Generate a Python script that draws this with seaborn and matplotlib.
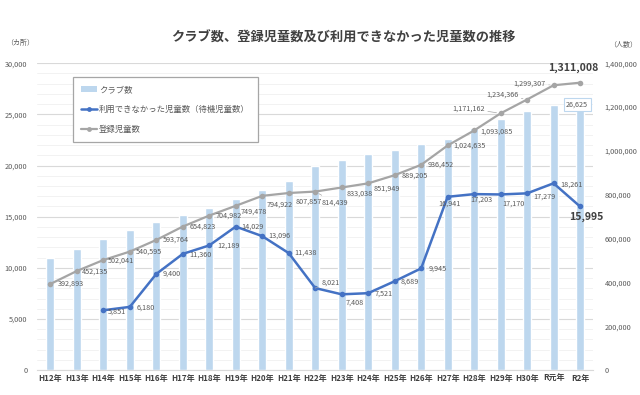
"""Recreate the after-school club trend chart (clubs, registered and waiting children)."""

import matplotlib

matplotlib.use("Agg")

import matplotlib.pyplot as plt
import matplotlib.ticker as mticker
import pandas as pd
import seaborn as sns
from matplotlib.lines import Line2D
from matplotlib.patches import Patch


YEARS = [
    "H12年", "H13年", "H14年", "H15年", "H16年", "H17年", "H18年",
    "H19年", "H20年", "H21年", "H22年", "H23年", "H24年", "H25年",
    "H26年", "H27年", "H28年", "H29年", "H30年", "R元年", "R2年",
]
CLUBS = [
    10994, 11803, 12782, 13698, 14457, 15184, 15857, 16685, 17583, 18479,
    19946, 20561, 21085, 21482, 22084, 22608, 23619, 24573, 25328, 25881, 26625,
]
REGISTERED = [
    392893, 452135, 502041, 540595, 593764, 654823, 704982, 749478, 794922,
    807857, 814439, 833038, 851949, 889205, 936452, 1024635, 1093085,
    1171162, 1234366, 1299307, 1311008,
]
WAITING = [
    None, None, 5851, 6180, 9400, 11360, 12189, 14029, 13096, 11438, 8021,
    7408, 7521, 8689, 9945, 16941, 17203, 17170, 17279, 18261, 15995,
]

TITLE = "クラブ数、登録児童数及び利用できなかった児童数の推移"
LEGEND_LABELS = ["クラブ数", "利用できなかった児童数（待機児童数）", "登録児童数"]

BAR_COLOR = "#BDD7EE"
WAIT_COLOR = "#4472C4"
REG_COLOR = "#A5A5A5"
TEXT_COLOR = "#595959"

# label offsets in pixels: (dx, dy, ha, leader line)
REG_OFFSETS = [
    (7, 0, "left", False), (5, -1, "left", False), (4, -1, "left", False),
    (6, 0, "left", False), (6, 0, "left", False), (7, 0, "left", False),
    (6, 0, "left", False), (5, -6, "left", False), (4, -9, "left", False),
    (7, -9, "left", True), (6, -11, "left", True), (5, -6, "left", False),
    (5, -5, "left", False), (7, 0, "left", False), (6, 0, "left", False),
    (6, 0, "left", False), (6, -1, "left", False), (-16, 5, "right", True),
    (-9, 5, "right", True), (-8, 2, "right", True), (-7, 15, "center", False),
]
WAIT_OFFSETS = [
    None, None, (4, -1, "left", False), (7, -1, "left", False),
    (6, 0, "left", False), (7, -1, "left", False), (8, 0, "left", False),
    (6, 0, "left", False), (6, 0, "left", False), (6, 0, "left", False),
    (6, 5, "left", True), (4, -8, "left", False), (6, 0, "left", False),
    (6, 0, "left", False), (7, 0, "left", False), (-9, -7, "left", False),
    (-4, -6, "left", False), (2, -9, "left", False), (6, -3, "left", False),
    (7, -1, "left", False), (6, -10, "center", False),
]


def label_points(ax, xs, values, offsets, color, last_big=True):
    for i, (x, v, off) in enumerate(zip(xs, values, offsets)):
        if v is None or off is None:
            continue
        dx, dy, ha, leader = off
        big = last_big and i == len(values) - 1
        ax.annotate(
            f"{v:,}",
            (x, v),
            xytext=(dx, dy),
            textcoords="offset pixels",
            ha=ha,
            va="center",
            fontsize=7.6 if big else 5.2,
            fontweight="bold" if big else "normal",
            color="#404040" if big else color,
            arrowprops=(
                dict(arrowstyle="-", color="#A6A6A6", lw=0.5, shrinkA=0, shrinkB=3)
                if leader else None
            ),
            zorder=6,
        )


def main() -> None:
    sns.set_style("white")
    plt.rcParams["font.family"] = ["Noto Sans CJK JP", "DejaVu Sans"]

    idx = list(range(len(YEARS)))
    clubs_df = pd.DataFrame({"year": YEARS, "clubs": CLUBS})
    wait_df = pd.DataFrame({"x": idx, "waiting": WAITING}).dropna()
    reg_df = pd.DataFrame({"x": idx, "registered": REGISTERED})

    fig = plt.figure(figsize=(6.4, 3.95), dpi=100)
    ax = fig.add_axes([0.058, 0.063, 0.869, 0.777])

    sns.barplot(
        data=clubs_df, x="year", y="clubs", order=YEARS, color=BAR_COLOR,
        saturation=1, width=0.3, ax=ax, zorder=2,
    )
    sns.lineplot(
        data=wait_df, x="x", y="waiting", ax=ax, color=WAIT_COLOR, lw=1.8,
        marker="o", markersize=4, markeredgewidth=0, zorder=4,
    )

    ax.set_xlim(-0.5, len(YEARS) - 0.5)
    ax.set_ylim(0, 30000)
    ax.yaxis.set_major_locator(mticker.MultipleLocator(5000))
    ax.yaxis.set_minor_locator(mticker.MultipleLocator(1000))
    ax.yaxis.set_major_formatter(mticker.FuncFormatter(lambda v, _: f"{int(v):,}"))
    ax.grid(which="major", axis="y", color="#D9D9D9", lw=0.8)
    ax.grid(which="minor", axis="y", color="#F0F0F0", lw=0.6)
    ax.set_axisbelow(True)
    ax.set_xticks(idx)
    ax.set_xticklabels(YEARS, fontsize=5.8, fontweight="bold", color="#404040")
    ax.tick_params(axis="y", which="both", length=0, labelsize=5.3,
                   labelcolor=TEXT_COLOR, pad=7)
    ax.tick_params(axis="x", length=0, pad=3)
    ax.set_xlabel("")
    ax.set_ylabel("")
    for side in ["top", "left", "right"]:
        ax.spines[side].set_visible(False)
    ax.spines["bottom"].set_color("#D9D9D9")

    ax2 = ax.twinx()
    sns.lineplot(
        data=reg_df, x="x", y="registered", ax=ax2, color=REG_COLOR, lw=1.6,
        marker="o", markersize=4, markeredgewidth=0, zorder=4,
    )
    ax2.set_ylim(0, 1400000)
    ax2.yaxis.set_major_locator(mticker.MultipleLocator(200000))
    ax2.yaxis.set_major_formatter(mticker.FuncFormatter(lambda v, _: f"{int(v):,}"))
    ax2.tick_params(axis="y", length=0, labelsize=5.3, labelcolor=TEXT_COLOR, pad=8)
    ax2.set_ylabel("")
    ax2.set_xlabel("")
    for side in ["top", "left", "right", "bottom"]:
        ax2.spines[side].set_visible(False)

    label_points(ax, idx, WAITING, WAIT_OFFSETS, TEXT_COLOR)
    label_points(ax2, idx, REGISTERED, REG_OFFSETS, TEXT_COLOR)

    # only the last club count carries a label, boxed
    ax.annotate(
        f"{CLUBS[-1]:,}", (idx[-1], CLUBS[-1]), xytext=(-3, -7),
        textcoords="offset pixels", ha="center", va="center", fontsize=5.2,
        color=TEXT_COLOR, zorder=6,
        bbox=dict(boxstyle="square,pad=0.35", fc="white", ec="#BDD7EE", lw=0.8),
    )

    handles = [
        Patch(facecolor=BAR_COLOR, edgecolor="none"),
        Line2D([], [], color=WAIT_COLOR, lw=1.8, marker="o", markersize=3.5,
               markeredgewidth=0),
        Line2D([], [], color=REG_COLOR, lw=1.6, marker="o", markersize=3.5,
               markeredgewidth=0),
    ]
    leg = ax2.legend(
        handles, LEGEND_LABELS, loc="upper left", bbox_to_anchor=(0.065, 0.954),
        borderaxespad=0, fontsize=6, labelspacing=1.3, handlelength=1.9,
        handletextpad=0.25, borderpad=0.95, fancybox=False, framealpha=1,
        edgecolor="#A6A6A6",
    )
    leg.get_frame().set_linewidth(0.9)
    for t in leg.get_texts():
        t.set_color(TEXT_COLOR)

    fig.text(0.536, 0.904, TITLE, ha="center", va="center", fontsize=9.5,
             fontweight="bold", color="#404040")
    fig.text(0.032, 0.89, "（カ所）", ha="center", va="center", fontsize=5,
             color=TEXT_COLOR)
    fig.text(0.973, 0.886, "（人数）", ha="center", va="center", fontsize=5,
             color=TEXT_COLOR)

    fig.savefig("out.png", dpi=100)
    plt.close(fig)


if __name__ == "__main__":
    main()
